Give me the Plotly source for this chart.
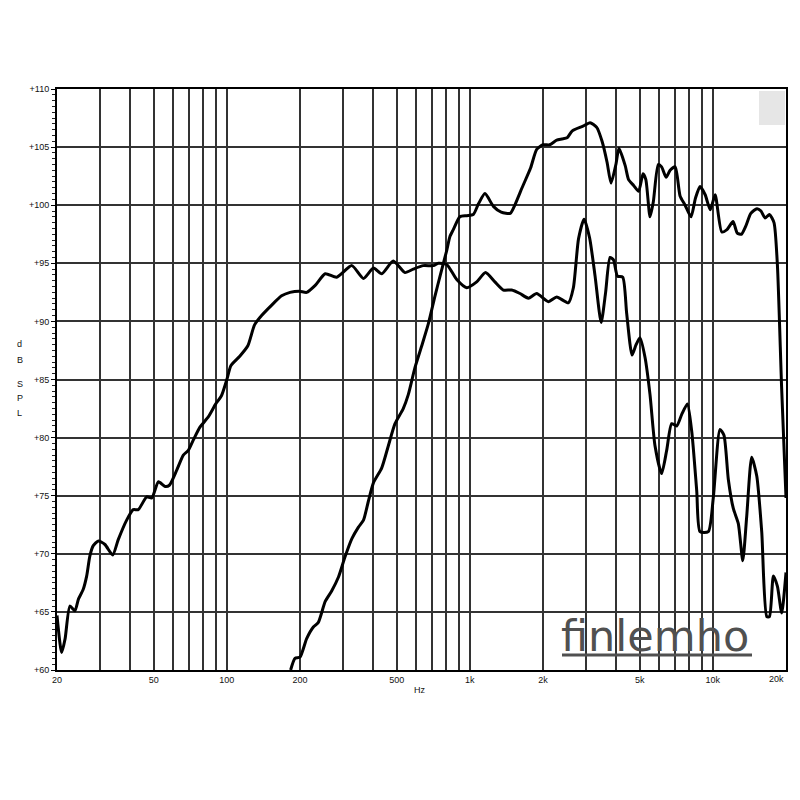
import plotly.graph_objects as go

# Woofer / mid curve (lower-frequency driver)
woofer_hz = [20, 20.9, 21.6, 22.6, 23.7, 24.5, 25.6, 26.5, 27.3, 28.2, 29.6, 31.5, 33.9, 35.7, 38.7,
             41.2, 43.2, 46.8, 49.1, 52.3, 55.7, 58, 62.2, 66.2, 69.4, 72.8, 77.5, 84, 90, 95,
             100, 104, 113, 122, 130, 139, 153, 168, 182, 199, 213, 231, 254, 283, 327, 365,
             401, 434, 484, 541, 585, 643, 708, 742, 803, 883, 971, 1067, 1160, 1268, 1374,
             1486, 1608, 1741, 1884, 2105, 2277, 2543, 2667, 2800, 2952, 3110, 3276, 3470,
             3620, 3775, 3900, 4050, 4258, 4419, 4650, 4831, 5013, 5260, 5513, 5780, 6155,
             6456, 6770, 7100, 7447, 7855, 8190, 8584, 8856, 9578, 10040, 10700, 11110, 11580,
             12140, 12730, 13280, 13780, 14450, 15160, 15890, 16670, 17100, 17750, 18440,
             19200, 20000]
woofer_db = [64.7, 61.5, 62.7, 65.5, 65.1, 66.1, 66.9, 68.1, 69.8, 70.7, 71.1, 70.8, 69.9, 71.2, 72.9,
             73.8, 73.8, 74.9, 74.8, 76.2, 75.8, 75.9, 77.2, 78.5, 78.9, 79.8, 80.9, 81.8, 82.9, 83.6,
             85.0, 86.2, 87.0, 87.9, 89.7, 90.5, 91.4, 92.2, 92.5, 92.6, 92.5, 93.1, 94.1, 93.8, 94.8, 93.7,
             94.6, 94.1, 95.2, 94.2, 94.5, 94.8, 94.8, 95.0, 94.9, 93.6, 92.9, 93.4, 94.2, 93.4, 92.7,
             92.7, 92.4, 92.0, 92.4, 91.7, 92.1, 91.6, 92.9, 97.1, 98.8, 97.2, 93.9, 89.9,
             92.5, 95.5, 95.3, 93.9, 93.8, 90.7, 87.1, 88.0, 88.6, 86.9, 83.7, 79.3, 76.9,
             78.9, 81.2, 81.0, 82.0, 82.9, 80.5, 75.4, 71.9, 71.9, 74.8, 80.7, 80.2, 76.4,
             73.9, 72.6, 69.4, 73.2, 78.3, 76.7, 71.9, 64.6, 64.6, 68.1, 67.2,
             64.9, 68.4]

# Tweeter / upper curve
tweeter_hz = [183, 190.7, 200, 213, 227, 238, 254, 270, 288, 306, 327, 348, 365, 382, 401, 434, 462,
              492, 532, 558, 594, 634, 675, 719, 754, 803, 828, 855, 910, 971, 1033, 1084, 1154,
              1250, 1346, 1466, 1538, 1640, 1778, 1884, 2000, 2130, 2277, 2392, 2514, 2640, 2922,
              3123, 3328, 3500, 3670, 3810, 3990, 4108, 4358, 4500, 4720, 4950, 5160, 5300, 5513,
              5690, 5960, 6155, 6420, 6670, 7000, 7330, 7690, 8130, 8480, 8856, 9300, 9760, 10220,
              10880, 11430, 12110, 12600, 13110, 13660, 14330, 15190, 15780, 16400, 17100, 17850,
              18430, 19180, 20000]
tweeter_db = [60.0, 61.0, 61.1, 62.7, 63.7, 64.1, 65.9, 66.8, 68.0, 69.7, 71.3, 72.3, 72.9, 74.5, 76.1, 77.4, 79.3,
              81.2, 82.5, 83.7, 86.0, 87.9, 89.8, 92.2, 93.9, 96.1, 97.3, 97.9, 99.0, 99.1, 99.2, 100.1, 101.0,
              99.9, 99.4, 99.3, 100.1, 101.5, 103.2, 104.8, 105.2, 105.2, 105.6, 105.7, 105.8, 106.4, 106.8,
              107.1, 106.7, 105.5, 103.7, 101.9, 103.5, 104.9, 103.4, 102.2, 101.7, 101.2, 102.7, 102.2, 99.0,
              100.3, 103.5, 103.3, 102.4, 103.0, 103.3, 100.8, 100.0, 99.0, 100.6, 101.6, 100.9, 99.6, 100.9,
              97.7, 97.9, 98.6, 97.6, 97.5, 98.2, 99.3, 99.7, 99.5, 98.9, 99.2, 98.5,
              94.9, 84.4, 74.8]

# Axis ticks / grid
grid_hz = [20, 30, 40, 50, 60, 70, 80, 90, 100, 200, 300, 400, 500, 600, 700, 800, 900,
           1000, 2000, 3000, 4000, 5000, 6000, 7000, 8000, 9000, 10000, 20000]
labelled_hz = {20: "20", 50: "50", 100: "100", 200: "200", 500: "500", 1000: "1k",
               2000: "2k", 5000: "5k", 10000: "10k"}
last_label = "20k"  # drawn right-aligned at the axis end so it is not cut off
db_ticks = [60, 65, 70, 75, 80, 85, 90, 95, 100, 105, 110]
db_labels = ["+%d" % v for v in db_ticks]

fig = go.Figure()
for xs, ys in [(woofer_hz, woofer_db), (tweeter_hz, tweeter_db)]:
    fig.add_trace(go.Scatter(x=xs, y=ys, mode="lines",
                             line=dict(color="black", width=3, shape="spline", smoothing=0.6),
                             hoverinfo="skip", showlegend=False, cliponaxis=True))

tick_font = dict(family="Liberation Sans", size=9, color="#111")

fig.update_xaxes(type="log", range=[1.30103, 4.30103], automargin=False,
                 tickvals=grid_hz, ticktext=[labelled_hz.get(v, "") for v in grid_hz],
                 showgrid=True, gridcolor="#333", gridwidth=1.7,
                 showline=True, linecolor="black", linewidth=2, mirror=True,
                 ticks="", tickfont=tick_font, zeroline=False)
fig.update_yaxes(range=[60, 110], tickvals=db_ticks, ticktext=db_labels, automargin=False,
                 showgrid=True, gridcolor="#333", gridwidth=1.7,
                 showline=True, linecolor="black", linewidth=2, mirror=True,
                 ticks="outside", ticklen=4, tickcolor="black", tickwidth=1,
                 minor=dict(dtick=0.5, ticks="outside", ticklen=3, tickcolor="#222",
                            tickwidth=1, showgrid=False),
                 tickfont=tick_font, zeroline=False)

annots = [dict(text="Hz", x=0.498, y=-0.047, xref="paper", yref="paper",
               showarrow=False, font=tick_font),
          dict(text=last_label, x=1.0, y=-0.003, xref="paper", yref="paper",
               xanchor="right", yanchor="top", showarrow=False, font=tick_font)]
for ch, ypix in [("d", 344), ("B", 360), ("S", 384), ("P", 398), ("L", 413)]:
    annots.append(dict(text=ch, x=-0.0576, y=(670 - ypix) / 581, xref="paper", yref="paper",
                       showarrow=False, font=tick_font))
annots.append(dict(text="finlemho", x=0.82, y=0.058, xref="paper", yref="paper",
                   showarrow=False, xanchor="center", yanchor="middle",
                   font=dict(family="DejaVu Sans", size=43, color="#505050")))
fig.update_layout(annotations=annots)

fig.add_shape(type="rect", xref="paper", yref="paper", x0=0.963, x1=0.9986, y0=0.938, y1=0.9966,
              fillcolor="#e6e6e6", line=dict(width=0), layer="below")
fig.add_shape(type="line", xref="paper", yref="paper", x0=(562 - 57) / 729, x1=(752 - 57) / 729,
              y0=(670 - 655) / 581, y1=(670 - 655) / 581, line=dict(color="#505050", width=3))

# page body has an 8px margin, so the figure is 792 wide/high and offset by 8px
fig.update_layout(width=792, height=792, margin=dict(l=49, r=14, t=81, b=130),
                  paper_bgcolor="white", plot_bgcolor="white")

fig.write_html("out.html")
